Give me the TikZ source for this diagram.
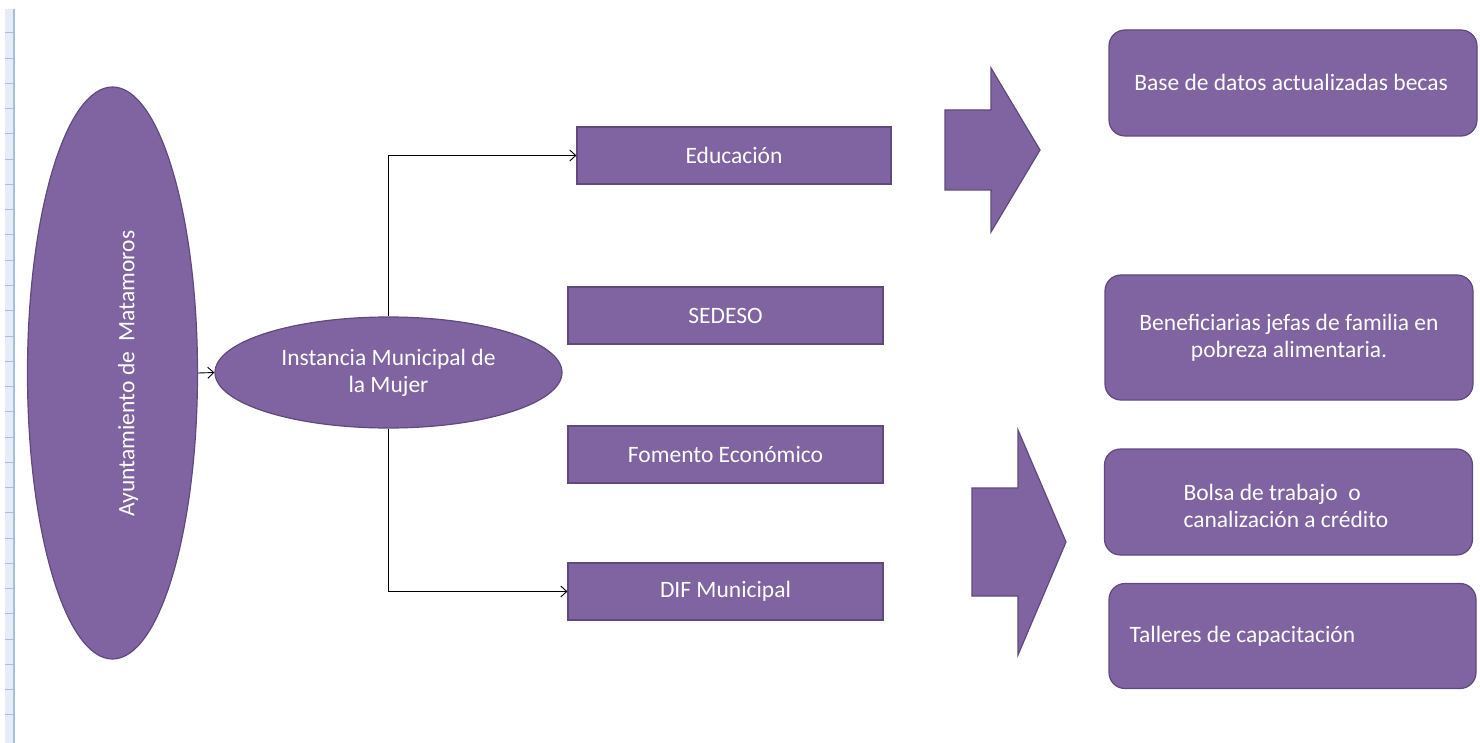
\documentclass[tikz,border=0pt]{standalone}
\usepackage{fontspec}
\setmainfont{Carlito}
\usetikzlibrary{arrows.meta,shapes.geometric}
\definecolor{purp}{HTML}{8064A2}
\definecolor{purpdark}{HTML}{5F4A7B}
\definecolor{rulerfill}{HTML}{E6EDF7}
\definecolor{rulerline}{HTML}{A7C0DE}
\tikzset{
  txt/.style={text=white, font=\fontsize{23.5}{27}\selectfont},
  box/.style={draw=purpdark, line width=1.2pt, fill=purp, txt, inner sep=0pt, align=center},
  rbox/.style={box, rounded corners=16pt},
  oval/.style={ellipse, draw=purpdark, line width=1.2pt, fill=purp, txt, inner sep=0pt, align=center},
  blockarrow/.style={draw=purpdark, line width=1.2pt, fill=purp, line join=miter},
  conn/.style={draw=black, line width=0.9pt, -{Straight Barb[length=6pt,width=11pt,line width=0.9pt]}},
}
\begin{document}
\begin{tikzpicture}[x=1pt,y=-1pt]
\useasboundingbox (0,0) rectangle (1480,743);
% ruler strip
\fill[rulerfill] (5,9) rectangle (14,743);
\draw[rulerline, line width=1.2pt] (14,9) -- (14,743);
\foreach \k in {0,...,27} {
  \draw[rulerline, line width=1pt] (5,{33+25.25*\k}) -- (14,{33+25.25*\k});
}
% ovals
\node[oval, minimum width=170pt, minimum height=572pt] (ayu) at (112.5,373) {};
\node[txt, rotate=90] (ayut) at (128,373.5) {Ayuntamiento de\ \ Matamoros};
\node[oval, minimum width=347pt, minimum height=111pt] (inst) at (388.5,372.5) {Instancia Municipal de\\la Mujer};
% rectangles
\node[box, minimum width=314pt, minimum height=57pt] (edu) at (734,155.5) {Educación};
\node[box, minimum width=315pt, minimum height=57pt] (sed) at (725.5,315.5) {SEDESO};
\node[box, minimum width=315pt, minimum height=57pt] (fom) at (725.5,454.5) {Fomento Económico};
\node[box, minimum width=315pt, minimum height=57pt] (dif) at (725.5,591.5) {DIF Municipal};
% block arrows
\draw[blockarrow] (945,110) -- (991,110) -- (991,68) -- (1040,150) -- (991,232) -- (991,190) -- (945,190) -- cycle;
\draw[blockarrow] (972,488) -- (1018,488) -- (1018,430) -- (1066,542) -- (1018,655) -- (1018,596) -- (972,596) -- cycle;
% rounded boxes
\node[rbox, minimum width=368pt, minimum height=106pt] (base) at (1293,83) {};
\node[txt] (baset) at (1291,82) {Base de datos actualizadas becas};
\node[rbox, minimum width=368pt, minimum height=125pt] (ben) at (1289,337.5) {Beneficiarias jefas de familia en\\pobreza alimentaria.};
\node[rbox, minimum width=368pt, minimum height=106pt] (bol) at (1288.5,502) {};
\node[txt, align=left, anchor=west] (bolt) at (1180,506) {Bolsa de trabajo \ o\\canalización a crédito};
\node[rbox, minimum width=367pt, minimum height=105pt] (tal) at (1292.5,636) {};
\node[txt, anchor=west] (talt) at (1126,636) {Talleres de capacitación};
% connectors
\draw[conn] (ayu.east) -- (inst.west);
\draw[conn] (inst.north) |- (edu.west);
\draw[conn] (inst.south) |- (dif.west);
\end{tikzpicture}
\end{document}
